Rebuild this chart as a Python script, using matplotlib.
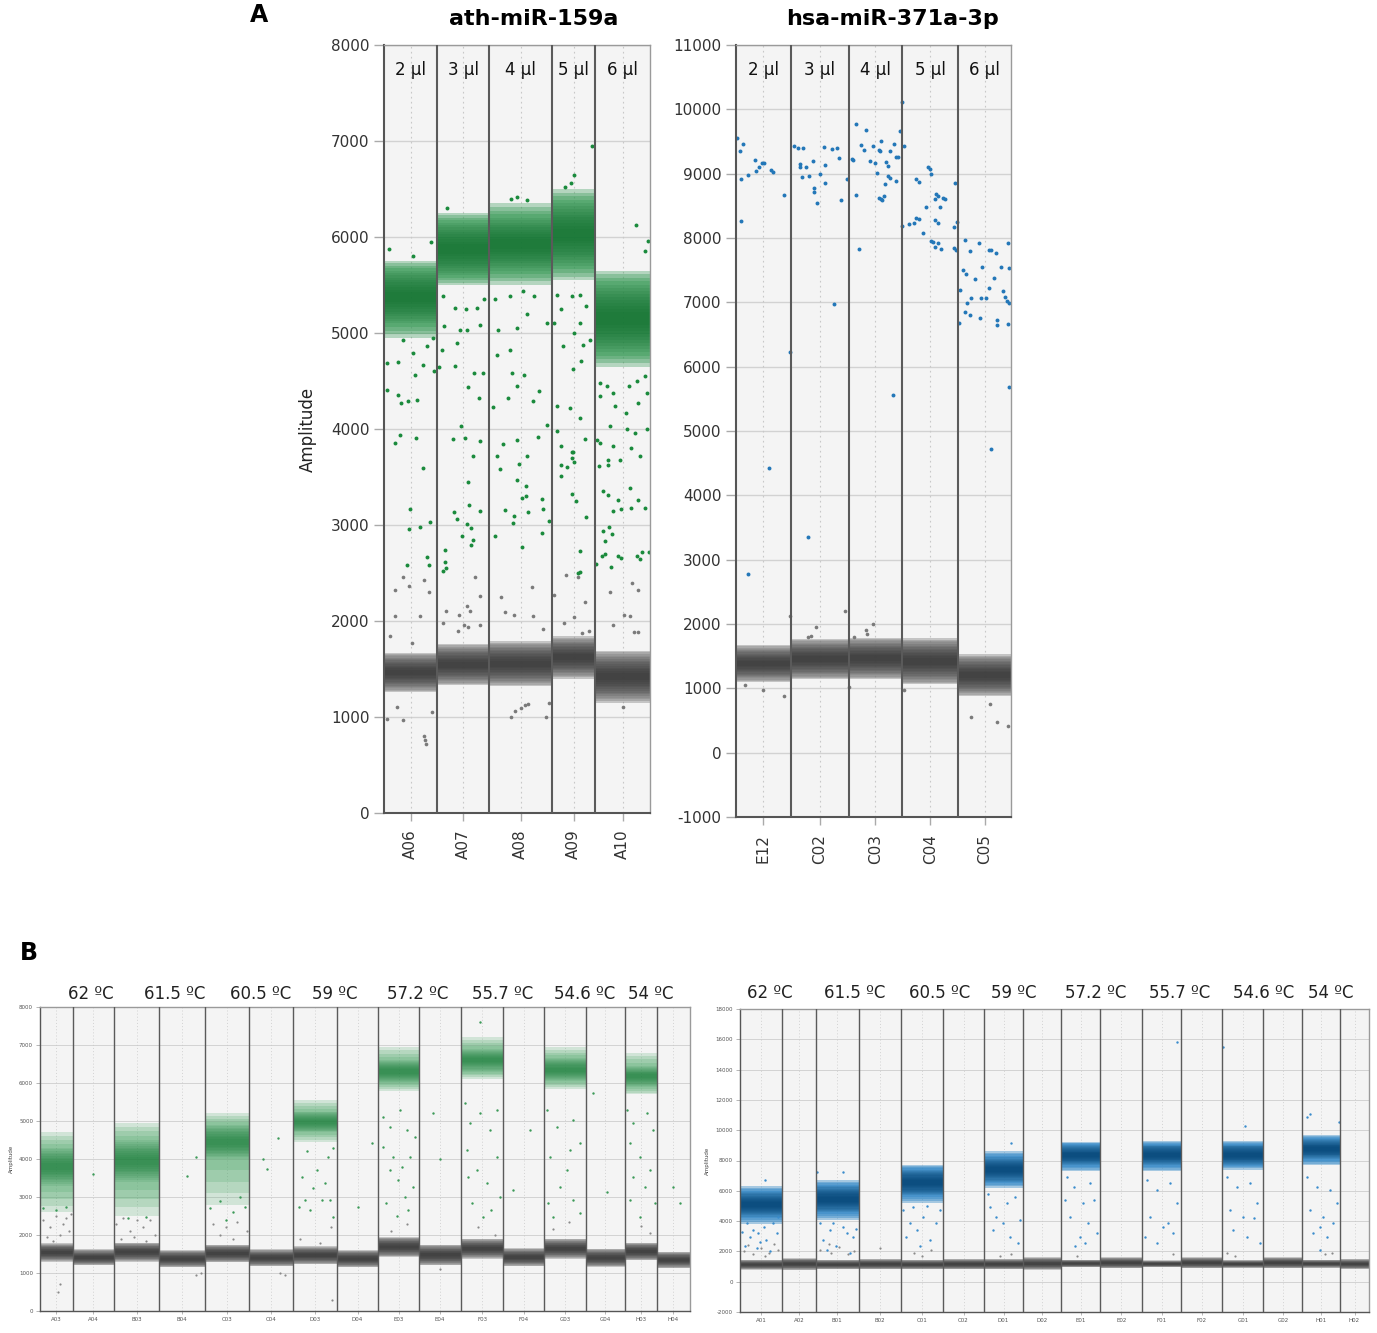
import numpy as np
import matplotlib
matplotlib.use("Agg")
import matplotlib.pyplot as plt
from matplotlib.transforms import blended_transform_factory

plt.rcParams['font.family'] = ['DejaVu Sans']
plt.rcParams['axes.unicode_minus'] = False

# ====================== DATA ======================
# ---- Panel A, left: ath-miR-159a ----
a1_wells = ["A06", "A07", "A08", "A09", "A10"]
a1_volumes = ["2 µl", "3 µl", "4 µl", "5 µl", "6 µl"]
a1_events = [13250, 13000, 15750, 10750, 13750]
a1_neg_low = [1260, 1330, 1320, 1400, 1150]
a1_neg_high = [1670, 1760, 1790, 1840, 1690]
a1_pos_low = [4950, 5500, 5500, 5550, 4650]
a1_pos_high = [5750, 6250, 6350, 6500, 5650]
a1_pos_core_low = [5100, 5600, 5650, 5700, 4800]
a1_pos_core_high = [5650, 6150, 6200, 6350, 5500]
# rain droplets (fraction of well, amplitude)
a1_rain_pos = [
    [(.36, 4932), (.55, 4794), (.81, 4863), (.93, 4950), (.05, 4689), (.27, 4700), (.73, 4671), (.58, 4560),
     (.94, 4602), (.06, 4410), (.27, 4358), (.33, 4272), (.46, 4289), (.62, 4306), (.31, 3942), (.60, 3907),
     (.21, 3855), (.74, 3594), (.49, 3166), (.48, 2961), (.67, 2975), (.87, 3027), (.44, 2586), (.81, 2662),
     (.85, 2586), (.10, 5870), (.55, 5800), (.88, 5950)],
    [(.09, 4827), (.38, 4897), (.58, 5036), (.83, 5088), (.12, 5384), (.35, 5262), (.55, 5245), (.76, 5262),
     (.91, 5349), (.13, 5071), (.44, 5036), (.35, 4654), (.04, 4647), (.59, 4438), (.72, 4585), (.81, 4323),
     (.89, 4585), (.47, 4032), (.30, 3894), (.54, 3911), (.83, 3876), (.70, 3720), (.59, 3452), (.33, 3139),
     (.39, 3062), (.62, 3205), (.83, 3150), (.58, 3014), (.66, 2969), (.48, 2882), (.69, 2847), (.65, 2788),
     (.15, 2743), (.16, 2614), (.17, 2551), (.11, 2517), (.20, 6300)],
    [(.10, 5349), (.33, 5384), (.54, 5436), (.15, 5036), (.44, 5054), (.60, 5193), (.71, 5384), (.92, 5106),
     (.12, 4776), (.33, 4827), (.36, 4585), (.44, 4445), (.30, 4323), (.56, 4566), (.80, 4393), (.70, 4289),
     (.07, 4230), (.23, 3848), (.44, 3883), (.78, 3917), (.92, 4039), (.60, 3720), (.13, 3723), (.17, 3584),
     (.48, 3636), (.45, 3473), (.58, 3404), (.52, 3285), (.58, 3306), (.84, 3271), (.62, 3132), (.40, 3097),
     (.26, 3153), (.85, 3170), (.38, 3021), (.10, 2882), (.52, 2768), (.84, 2917), (.95, 3045),
     (.35, 6400), (.45, 6420), (.60, 6390)],
    [(.11, 5401), (.22, 5245), (.46, 5384), (.65, 5401), (.79, 5280), (.05, 5106), (.65, 5106), (.51, 5002),
     (.73, 4880), (.88, 4932), (.25, 4863), (.67, 4706), (.48, 4626), (.11, 4237), (.42, 4220), (.64, 4115),
     (.12, 3976), (.22, 3820), (.48, 3758), (.77, 3894), (.21, 3629), (.36, 3605), (.50, 3654), (.46, 3699),
     (.47, 3761), (.20, 3515), (.46, 3327), (.56, 3254), (.79, 3087), (.65, 2733), (.64, 2515), (.60, 2502),
     (.45, 6560), (.50, 6650), (.93, 6950), (.30, 6520)],
    [(.09, 4480), (.21, 4445), (.33, 4376), (.61, 4445), (.76, 4497), (.91, 4549), (.09, 4341), (.36, 4237),
     (.56, 4167), (.79, 4272), (.94, 4376), (.27, 4032), (.58, 3998), (.73, 3963), (.09, 3855), (.33, 3820),
     (.45, 3681), (.82, 3720), (.94, 3998), (.03, 3890), (.24, 3680), (.08, 3611), (.23, 3629), (.65, 3803),
     (.15, 3351), (.24, 3316), (.41, 3264), (.33, 3143), (.48, 3167), (.65, 3178), (.79, 3264), (.91, 3178),
     (.64, 3386), (.14, 2941), (.25, 2983), (.30, 2906), (.19, 2837), (.12, 2680), (.19, 2701), (.29, 2566),
     (.41, 2677), (.48, 2660), (.77, 2677), (.82, 2642), (.85, 2718), (.99, 2718), (.01, 2597),
     (.75, 6120), (.97, 5960), (.90, 5850)],
]
a1_rain_neg = [
    [(.35, 2457), (.21, 2318), (.48, 2366), (.75, 2422), (.84, 2307), (.21, 2054), (.67, 2047), (.11, 1839),
     (.52, 1770), (.25, 1100), (.05, 980), (.35, 970), (.75, 800), (.77, 760), (.80, 720), (.90, 1050)],
    [(.73, 2457), (.58, 2158), (.17, 2109), (.83, 2262), (.43, 2062), (.12, 1977), (.52, 1960), (.83, 1960),
     (.63, 2100), (.60, 1940), (.40, 1900)],
    [(.69, 2353), (.19, 2255), (.25, 2098), (.70, 2049), (.39, 2066), (.86, 1916), (.35, 1000), (.42, 1060),
     (.50, 1090), (.57, 1120), (.62, 1140), (.90, 1000), (.95, 1150)],
    [(.32, 2474), (.60, 2461), (.05, 2266), (.29, 1982), (.51, 2044), (.77, 2200), (.85, 1900), (.70, 1880)],
    [(.27, 2297), (.52, 2066), (.64, 2049), (.79, 2318), (.68, 2394), (.33, 1962), (.70, 1882), (.79, 1882),
     (.50, 1100)],
]

# ---- Panel A, right: hsa-miR-371a-3p ----
a2_wells = ["E12", "C02", "C03", "C04", "C05"]
a2_volumes = ["2 µl", "3 µl", "4 µl", "5 µl", "6 µl"]
a2_events = [13750, 14500, 13500, 14000, 13250]
a2_neg_low = [1100, 1140, 1140, 1060, 880]
a2_neg_high = [1670, 1770, 1790, 1780, 1530]
a2_rain_pos = [
    [(.02, 9550), (.07, 9353), (.12, 9467), (.09, 8918), (.09, 8271), (.21, 8980), (.35, 9208), (.36, 9042),
     (.42, 9110), (.47, 9162), (.51, 9172), (.64, 9063), (.68, 9027), (.88, 8664), (.99, 6230), (.60, 4420),
     (.22, 2780)],
    [(.06, 9436), (.12, 9395), (.21, 9395), (.16, 9151), (.16, 9110), (.27, 9110), (.20, 8949), (.31, 8965),
     (.38, 9203), (.40, 8778), (.40, 8711), (.45, 8545), (.51, 9001), (.59, 9136), (.59, 8861), (.57, 9410),
     (.72, 9389), (.80, 9400), (.84, 9250), (.87, 8592), (.75, 6971), (.29, 3350), (.98, 8923)],
    [(.07, 9234), (.08, 9208), (.13, 8670), (.19, 7826), (.23, 9452), (.29, 9369), (.32, 9679), (.14, 9773),
     (.39, 9203), (.46, 9436), (.50, 9162), (.52, 9006), (.57, 9374), (.59, 9348), (.61, 9509), (.57, 8618),
     (.60, 8602), (.63, 8587), (.66, 8654), (.68, 8835), (.70, 9187), (.73, 9115), (.74, 8965), (.77, 8939),
     (.77, 9358), (.85, 9457), (.88, 9260), (.91, 9260), (.88, 8887), (.96, 9659), (.99, 10114), (.99, 8183),
     (.83, 5562)],
    [(.02, 9426), (.24, 8918), (.29, 8877), (.12, 8224), (.20, 8235), (.25, 8317), (.30, 8297), (.37, 8079),
     (.42, 8483), (.46, 9110), (.49, 9079), (.52, 9001), (.58, 8602), (.61, 8685), (.64, 8654), (.67, 8483),
     (.73, 8628), (.77, 8602), (.58, 8281), (.63, 8240), (.52, 7955), (.55, 7945), (.63, 7929), (.58, 7857),
     (.70, 7826), (.94, 8851), (.92, 8172), (.97, 8250), (.93, 7841), (.96, 7810)],
    [(.02, 6681), (.03, 7188), (.10, 7500), (.15, 7448), (.17, 6987), (.24, 7065), (.13, 6857), (.23, 6810),
     (.13, 7971), (.22, 7805), (.31, 7360), (.40, 7930), (.45, 7546), (.41, 6758), (.43, 7065), (.53, 7070),
     (.59, 7815), (.62, 7810), (.67, 7375), (.59, 7225), (.71, 7764), (.73, 6727), (.74, 6655), (.82, 7556),
     (.84, 7183), (.88, 7080), (.93, 7023), (.95, 7929), (.96, 7531), (.95, 6670), (.97, 6997), (.96, 5687),
     (.62, 4720)],
]
a2_rain_neg = [
    [(.98, 2130), (.17, 1050), (.50, 970), (.87, 880)],
    [(.43, 1950), (.93, 2200), (.35, 1820), (.30, 1800)],
    [(.46, 2000), (.35, 1850), (.10, 1800), (.00, 1020), (.33, 1900)],
    [(.02, 980)],
    [(.25, 550), (.60, 750), (.73, 480), (.95, 420)],
]

# ---- Panel B, left: ath-miR-159a temperature gradient ----
b1_wells = ["A03", "A04", "B03", "B04", "C03", "C04", "D03", "D04",
            "E03", "E04", "F03", "F04", "G03", "G04", "H03", "H04"]
b1_temps = ["62 ºC", "61.5 ºC", "60.5 ºC", "59 ºC", "57.2 ºC", "55.7 ºC", "54.6 ºC", "54 ºC"]
b1_events = [9800, 12400, 13500, 13900, 13200, 13200, 13000, 12500,
             12200, 12600, 12700, 12300, 12400, 11800, 9500, 10000]
b1_neg_low = [1300, 1200, 1300, 1150, 1280, 1180, 1230, 1150, 1420, 1200, 1380, 1180, 1380, 1160, 1330, 1130]
b1_neg_high = [1780, 1620, 1800, 1600, 1750, 1620, 1700, 1600, 1950, 1750, 1900, 1650, 1900, 1640, 1800, 1560]
b1_pos_low = [2600, 0, 2500, 0, 2800, 0, 4450, 0, 5800, 0, 6100, 0, 5850, 0, 5700, 0]
b1_pos_high = [4700, 0, 4950, 0, 5200, 0, 5550, 0, 6950, 0, 7200, 0, 6950, 0, 6800, 0]
b1_pos_core_low = [3300, 0, 3400, 0, 4000, 0, 4700, 0, 6000, 0, 6300, 0, 6050, 0, 5900, 0]
b1_pos_core_high = [4300, 0, 4500, 0, 4900, 0, 5250, 0, 6600, 0, 6900, 0, 6650, 0, 6450, 0]
b1_rain_pos = [
    [(.10, 2700), (.50, 2650), (.80, 2750)],
    [(.50, 3600)],
    [(.30, 2450), (.70, 2480)],
    [(.60, 3550), (.80, 4050)],
    [(.11, 2700), (.33, 2900), (.64, 2600), (.90, 2750), (.48, 2400), (.79, 3000)],
    [(.30, 4000), (.40, 3750), (.65, 4550)],
    [(.19, 3534), (.27, 2919), (.38, 2655), (.81, 4061), (.85, 2919), (.92, 2479), (.46, 3226), (.73, 3358),
     (.12, 2743), (.65, 2919), (.54, 3710), (.31, 4200), (.92, 4300)],
    [(.50, 2750), (.84, 4413)],
    [(.12, 5117), (.29, 4853), (.53, 5292), (.70, 4765), (.78, 4062), (.29, 3710), (.49, 3446), (.66, 3007),
     (.86, 3270), (.20, 2831), (.74, 2655), (.37, 4062), (.90, 4589), (.12, 4325), (.45, 2500), (.57, 3800)],
    [(.34, 5204), (.50, 4000)],
    [(.09, 5468), (.21, 4941), (.45, 5204), (.69, 4765), (.84, 5292), (.13, 4237), (.37, 3710), (.61, 3358),
     (.84, 4062), (.25, 2831), (.72, 2655), (.17, 3534), (.92, 3007), (.53, 2479), (.45, 7600)],
    [(.65, 4765), (.24, 3182)],
    [(.06, 5292), (.30, 4853), (.70, 5029), (.86, 4413), (.14, 4062), (.54, 3710), (.38, 3270), (.70, 2919),
     (.10, 2831), (.86, 2567), (.22, 2479), (.62, 4237)],
    [(.19, 5732), (.53, 3138)],
    [(.05, 5292), (.26, 4941), (.68, 5204), (.89, 4765), (.16, 4413), (.47, 4062), (.79, 3710), (.26, 3534),
     (.63, 3270), (.16, 2919), (.95, 2831), (.47, 2479)],
    [(.50, 3270), (.70, 2831)],
]
b1_rain_neg = [
    [(.10, 2400), (.30, 2200), (.50, 2500), (.70, 2300), (.90, 2100), (.20, 1950), (.60, 2000), (.80, 2450),
     (.40, 1850), (.95, 2550), (.60, 700), (.55, 500)],
    [],
    [(.05, 2300), (.20, 2450), (.35, 2100), (.50, 2400), (.65, 2200), (.80, 2400), (.90, 2000), (.15, 1900),
     (.45, 1950), (.70, 1850)],
    [(.80, 950), (.90, 1000)],
    [(.18, 2300), (.48, 2200), (.71, 2350), (.94, 2100), (.33, 2000), (.64, 1900)],
    [(.70, 1000), (.80, 950)],
    [(.15, 1900), (.62, 1800), (.88, 2200), (.90, 300)],
    [],
    [(.30, 2100), (.70, 2300)],
    [(.50, 1100)],
    [(.40, 2200), (.80, 2000)],
    [],
    [(.20, 2150), (.60, 2350)],
    [],
    [(.50, 2250), (.80, 2050)],
    [],
]

# ---- Panel B, right: hsa-miR-371a-3p temperature gradient ----
b2_wells = ["A01", "A02", "B01", "B02", "C01", "C02", "D01", "D02",
            "E01", "E02", "F01", "F02", "G01", "G02", "H01", "H02"]
b2_temps = ["62 ºC", "61.5 ºC", "60.5 ºC", "59 ºC", "57.2 ºC", "55.7 ºC", "54.6 ºC", "54 ºC"]
b2_events = [12600, 10200, 12800, 12700, 12700, 12200, 11800, 11400,
             11700, 12700, 11600, 12400, 12300, 11700, 11300, 8700]
b2_neg_low = [800, 780, 820, 820, 820, 820, 820, 780, 950, 880, 950, 880, 920, 880, 920, 830]
b2_neg_high = [1450, 1550, 1450, 1500, 1450, 1500, 1500, 1600, 1450, 1600, 1400, 1600, 1420, 1600, 1450, 1500]
b2_pos_low = [3800, 0, 4100, 0, 5200, 0, 6200, 0, 7300, 0, 7300, 0, 7400, 0, 7700, 0]
b2_pos_high = [6300, 0, 6700, 0, 7700, 0, 8600, 0, 9250, 0, 9300, 0, 9300, 0, 9700, 0]
b2_pos_core_low = [4300, 0, 4600, 0, 5700, 0, 6600, 0, 7700, 0, 7700, 0, 7700, 0, 8100, 0]
b2_pos_core_high = [5900, 0, 6300, 0, 7400, 0, 8200, 0, 9000, 0, 9050, 0, 9050, 0, 9400, 0]
b2_rain_pos = [
    [(.16, 3862), (.32, 3423), (.56, 3642), (.79, 3862), (.87, 3203), (.24, 2983), (.63, 2764), (.40, 2215),
     (.71, 1995), (.12, 2325), (.91, 4300), (.44, 3203), (.04, 3300), (.48, 2600), (.60, 6700)],
    [],
    [(.09, 3862), (.33, 3423), (.64, 3642), (.88, 2983), (.17, 2764), (.48, 2325), (.80, 1886), (.25, 2105),
     (.72, 3203), (.02, 7265), (.64, 7265), (.41, 3900), (.95, 3500)],
    [],
    [(.06, 4740), (.21, 3862), (.53, 4300), (.84, 3862), (.13, 2983), (.45, 2325), (.69, 2764), (.37, 3423),
     (.92, 4740), (.61, 5000), (.29, 4900)],
    [],
    [(.15, 4960), (.32, 4300), (.58, 5179), (.92, 4081), (.24, 3423), (.66, 2983), (.87, 2545), (.49, 3862),
     (.68, 9131), (.11, 5800), (.79, 5600)],
    [],
    [(.15, 6935), (.32, 6277), (.57, 5179), (.83, 5398), (.23, 4300), (.70, 3862), (.49, 2983), (.91, 3203),
     (.36, 2325), (.62, 2545), (.10, 5398), (.74, 6496)],
    [],
    [(.11, 6716), (.37, 6057), (.72, 6496), (.89, 5179), (.20, 4300), (.54, 3642), (.80, 3203), (.07, 2983),
     (.37, 2545), (.67, 3862), (.89, 15830)],
    [],
    [(.11, 6935), (.35, 6277), (.67, 6496), (.84, 5179), (.19, 4740), (.51, 4300), (.76, 4191), (.27, 3423),
     (.59, 2983), (.92, 2545), (.02, 15500), (.55, 10300)],
    [],
    [(.12, 6935), (.38, 6277), (.73, 6057), (.91, 5179), (.20, 4740), (.56, 4300), (.82, 3862), (.29, 3203),
     (.65, 2983), (.47, 3642), (.12, 10887), (.19, 11041), (.96, 10558), (.47, 2105)],
    [],
]
b2_rain_neg = [
    [(.10, 2000), (.30, 1800), (.50, 2200), (.70, 1900), (.90, 2100), (.20, 2400), (.60, 1700), (.80, 2500)],
    [],
    [(.10, 2100), (.35, 1900), (.55, 2300), (.75, 1800), (.90, 2000), (.30, 2500)],
    [(.50, 2200)],
    [(.30, 1900), (.70, 2100), (.50, 1700)],
    [],
    [(.40, 1700), (.70, 1800)],
    [],
    [(.40, 1700)],
    [],
    [(.80, 1800)],
    [],
    [(.10, 1900), (.30, 1700)],
    [],
    [(.60, 1800), (.80, 1900)],
    [],
]

# ====================== STYLE ======================
BG = "#f4f4f4"
GRID = "#d2d2d2"
SEP = "#5a5a5a"
GREEN_PT = "#1a8a3c"
BLUE_PT = "#2377b8"
GREY_PT = "#7a7a7a"


def well_starts(events):
    ev = np.asarray(events, dtype=float)
    starts = np.concatenate([[0.0], np.cumsum(ev)[:-1]])
    return starts, ev


def draw_band(ax, starts, widths, low, high, core_low, core_high,
              base_color, base_alpha, core_color, n=10, core_alpha=0.13):
    """Density band: soft fringe over [low, high] and nested layers from the
    core range toward its centre, giving a smooth density gradient."""
    low = np.asarray(low, float); high = np.asarray(high, float)
    core_low = np.asarray(core_low, float); core_high = np.asarray(core_high, float)
    keep = high > low
    st, wd = starts[keep], widths[keep]
    lo, hi, clo, chi = low[keep], high[keep], core_low[keep], core_high[keep]
    for k in range(4):
        t = k / 4.0
        l_k = lo + t * (clo - lo)
        h_k = hi - t * (hi - chi)
        ax.bar(st, h_k - l_k, width=wd, bottom=l_k, align="edge", color=base_color,
               alpha=base_alpha, linewidth=0, zorder=2, antialiased=False)
    mid = (clo + chi) / 2
    for k in range(n):
        t = k / n
        l_k = clo + t * (mid - clo) * 0.9
        h_k = chi - t * (chi - mid) * 0.9
        ax.bar(st, h_k - l_k, width=wd, bottom=l_k, align="edge", color=core_color,
               alpha=core_alpha, linewidth=0, zorder=2.1, antialiased=False)


def draw_rain(ax, starts, widths, rain, color, size):
    xs, ys = [], []
    for s, w, pts in zip(starts, widths, rain):
        for f, a in pts:
            xs.append(s + f * w)
            ys.append(a)
    ax.scatter(xs, ys, s=size, color=color, linewidths=0, zorder=2.5)


def neg_core(low, high):
    low = np.asarray(low, float); high = np.asarray(high, float)
    mid = (low + high) / 2
    half = (high - low) / 2
    return mid - 0.75 * half, mid + 0.75 * half


def grey_band(ax, starts, widths, low, high):
    cl, ch = neg_core(low, high)
    draw_band(ax, starts, widths, low, high, cl, ch, "#7e7e7e", 0.4, "#2e2e2e", n=10, core_alpha=0.13)


def style_axes(ax, starts, widths, wells, ylim, yticks, big):
    ax.set_facecolor(BG)
    ax.set_xlim(0, starts[-1] + widths[-1])
    ax.set_ylim(*ylim)
    ax.set_yticks(yticks)
    centers = starts + widths / 2
    ax.set_xticks(centers)
    for y in yticks:
        ax.axhline(y, color=GRID, lw=1.0 if big else 0.7, zorder=0.5)
    for c in centers:
        ax.axvline(c, color="#c8c8c8", lw=0.8 if big else 0.5, ls=(0, (1.5, 3)), zorder=0.6)
    for s in starts[1:]:
        ax.axvline(s, color=SEP, lw=1.5 if big else 1.0, zorder=3)
    for side in ["top", "right"]:
        ax.spines[side].set_color("#9a9a9a")
        ax.spines[side].set_linewidth(1.0)
    for side in ["left", "bottom"]:
        ax.spines[side].set_color("#555555")
        ax.spines[side].set_linewidth(1.5 if big else 1.0)
    if big:
        ax.set_xticklabels(wells, rotation=90, fontsize=11, color="#333333")
        ax.tick_params(axis="y", labelsize=11, labelcolor="#333333", color="#aaaaaa", length=7, width=1)
        ax.tick_params(axis="x", color="#aaaaaa", length=6, width=1, pad=6)
    else:
        ax.set_xticklabels(wells, fontsize=4, color="#555555")
        ax.tick_params(axis="y", labelsize=4, labelcolor="#555555", color="#aaaaaa", length=3, width=0.6,
                       pad=2)
        ax.tick_params(axis="x", color="#aaaaaa", length=2, width=0.6, pad=2)


W, H = 1377, 1333
fig = plt.figure(figsize=(W / 100, H / 100), dpi=100)
fig.patch.set_facecolor("white")


def px_axes(x0, y0, x1, y1):
    return fig.add_axes([x0 / W, 1 - y1 / H, (x1 - x0) / W, (y1 - y0) / H])


# ---------------- Panel A left ----------------
ax1 = px_axes(384, 45, 650, 813)
s1, w1 = well_starts(a1_events)
style_axes(ax1, s1, w1, a1_wells, (0, 8000), np.arange(0, 8001, 1000), True)
grey_band(ax1, s1, w1, a1_neg_low, a1_neg_high)
draw_band(ax1, s1, w1, a1_pos_low, a1_pos_high, a1_pos_core_low, a1_pos_core_high,
          "#2f9650", 0.32, "#0d6e2c", n=10, core_alpha=0.12)
draw_rain(ax1, s1, w1, a1_rain_neg, GREY_PT, 7)
draw_rain(ax1, s1, w1, a1_rain_pos, GREEN_PT, 8)
tr = blended_transform_factory(ax1.transData, ax1.transAxes)
for c, v in zip(s1 + w1 / 2, a1_volumes):
    ax1.text(c, 0.967, v, transform=tr, ha="center", va="center", fontsize=12, color="#111111", zorder=4)
ax1.set_ylabel("Amplitude", fontsize=12, color="#222222", labelpad=10)

# ---------------- Panel A right ----------------
ax2 = px_axes(736, 45, 1011, 817)
s2, w2 = well_starts(a2_events)
style_axes(ax2, s2, w2, a2_wells, (-1000, 11000), np.arange(-1000, 11001, 1000), True)
grey_band(ax2, s2, w2, a2_neg_low, a2_neg_high)
draw_rain(ax2, s2, w2, a2_rain_neg, GREY_PT, 7)
draw_rain(ax2, s2, w2, a2_rain_pos, BLUE_PT, 8)
tr = blended_transform_factory(ax2.transData, ax2.transAxes)
for c, v in zip(s2 + w2 / 2, a2_volumes):
    ax2.text(c, 0.968, v, transform=tr, ha="center", va="center", fontsize=12, color="#111111", zorder=4)

fig.text(534 / W, 1 - 19 / H, "ath-miR-159a", ha="center", va="center", fontsize=16, fontweight="bold")
fig.text(892 / W, 1 - 19 / H, "hsa-miR-371a-3p", ha="center", va="center", fontsize=16, fontweight="bold")
fig.text(259 / W, 1 - 15 / H, "A", ha="center", va="center", fontsize=17, fontweight="bold")
fig.text(29 / W, 1 - 953 / H, "B", ha="center", va="center", fontsize=17, fontweight="bold")

# ---------------- Panel B left ----------------
ax3 = px_axes(40, 1007, 690, 1311)
s3, w3 = well_starts(b1_events)
style_axes(ax3, s3, w3, b1_wells, (0, 8000), np.arange(0, 8001, 1000), False)
grey_band(ax3, s3, w3, b1_neg_low, b1_neg_high)
draw_band(ax3, s3, w3, b1_pos_low, b1_pos_high, b1_pos_core_low, b1_pos_core_high,
          "#45a463", 0.2, "#137a35", n=10, core_alpha=0.1)
draw_rain(ax3, s3, w3, b1_rain_neg, "#8a8a8a", 2.5)
draw_rain(ax3, s3, w3, b1_rain_pos, "#3c9a58", 3)
ax3.set_ylabel("Amplitude", fontsize=4, color="#444444", labelpad=4)
b1_label_px = [91, 175, 261, 335, 418, 503, 585, 651]
for x, t in zip(b1_label_px, b1_temps):
    fig.text(x / W, 1 - 994 / H, t, ha="center", va="center", fontsize=12, color="#222222")

# ---------------- Panel B right ----------------
ax4 = px_axes(740, 1009, 1369, 1312)
s4, w4 = well_starts(b2_events)
style_axes(ax4, s4, w4, b2_wells, (-2000, 18000), np.arange(-2000, 18001, 2000), False)
grey_band(ax4, s4, w4, b2_neg_low, b2_neg_high)
draw_band(ax4, s4, w4, b2_pos_low, b2_pos_high, b2_pos_core_low, b2_pos_core_high,
          "#2f86c6", 0.4, "#003f6e", n=10, core_alpha=0.14)
draw_rain(ax4, s4, w4, b2_rain_neg, "#8a8a8a", 2.5)
draw_rain(ax4, s4, w4, b2_rain_pos, "#3a8ccc", 3)
ax4.set_ylabel("Amplitude", fontsize=4, color="#444444", labelpad=4)
b2_label_px = [770, 855, 940, 1014, 1096, 1180, 1264, 1331]
for x, t in zip(b2_label_px, b2_temps):
    fig.text(x / W, 1 - 993 / H, t, ha="center", va="center", fontsize=12, color="#222222")

fig.savefig("out.png", dpi=100, facecolor="white")
